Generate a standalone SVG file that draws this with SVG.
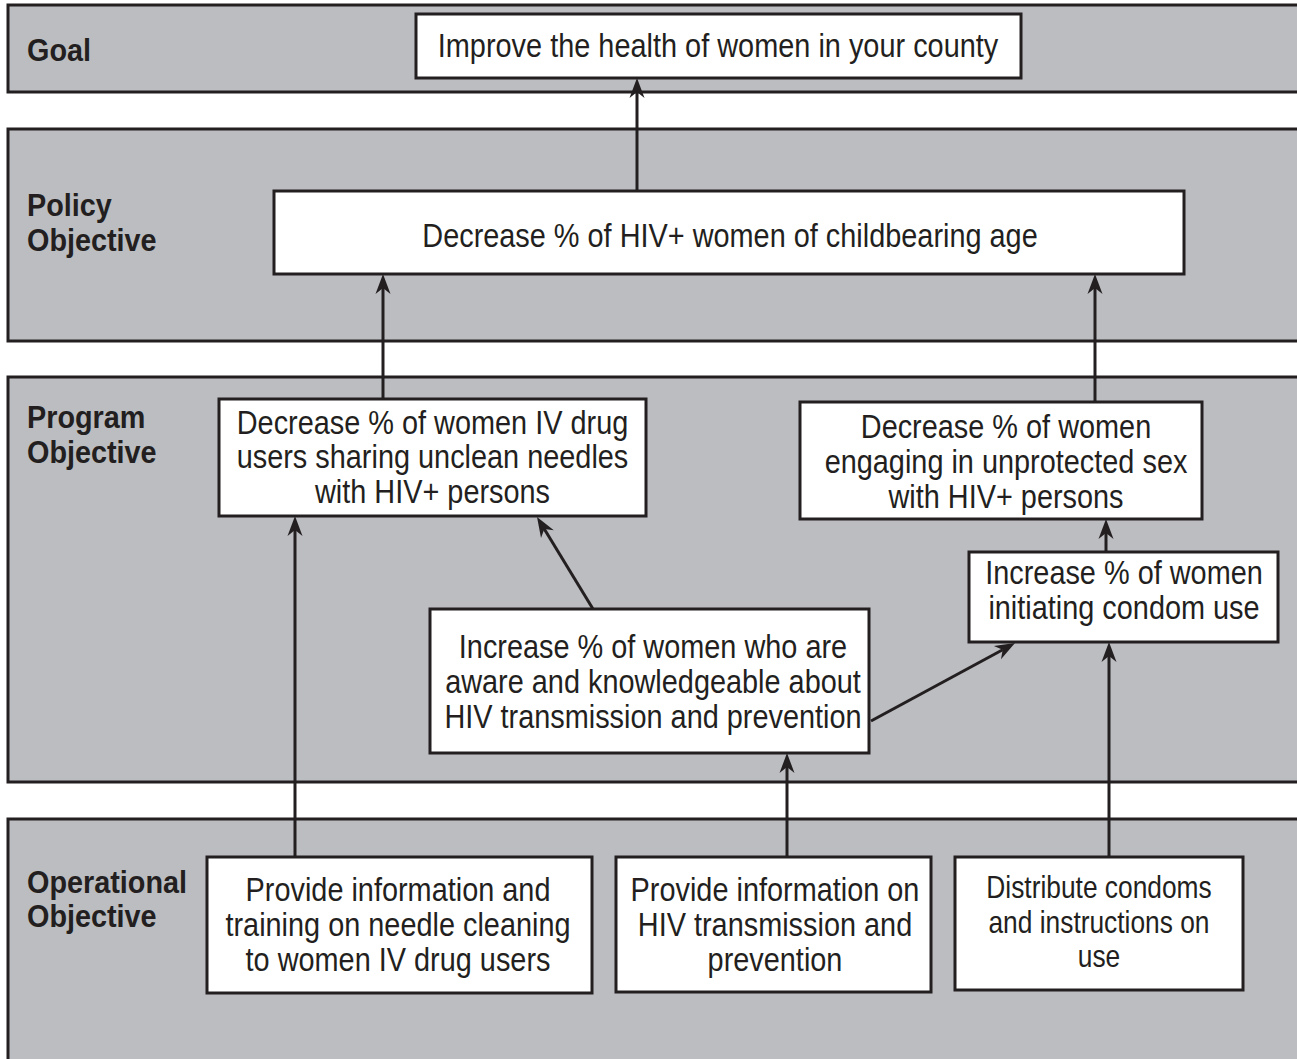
<svg xmlns="http://www.w3.org/2000/svg" width="1297" height="1059" viewBox="0 0 1297 1059">
  <style>
    .band { fill: #bcbdc1; stroke: #231f20; stroke-width: 3; }
    .box { fill: #ffffff; stroke: #231f20; stroke-width: 3; }
    .lbl { font-family: "Liberation Sans", Arial, sans-serif; font-weight: bold; font-size: 32px; fill: #231f20; }
    .txt { font-family: "Liberation Sans", Arial, sans-serif; font-size: 33px; fill: #231f20; text-anchor: middle; }
    .big { font-size: 34px; }
    .sm { font-size: 31px; }
    .conn { stroke: #231f20; stroke-width: 3; fill: none; marker-end: url(#ah); }
  </style>
  <defs>
    <marker id="ah" viewBox="-22 -9 24 18" refX="-14" refY="0" markerWidth="24" markerHeight="18" markerUnits="userSpaceOnUse" orient="auto">
      <path d="M0,0 L-20,-7.5 L-14,0 L-20,7.5 Z" fill="#231f20"/>
    </marker>
  </defs>

  <rect width="1297" height="1059" fill="#ffffff"/>

  <!-- Level bands -->
  <g id="bands">
    <g id="band-goal">
      <rect class="band" x="8" y="5" width="1300" height="87"/>
      <text class="lbl" transform="translate(27 0) scale(0.9 1)" x="0" y="61">Goal</text>
    </g>
    <g id="band-policy">
      <rect class="band" x="8" y="129" width="1300" height="212"/>
      <text class="lbl" transform="translate(27 0) scale(0.9 1)"><tspan x="0" y="216">Policy</tspan><tspan x="0" y="251">Objective</tspan></text>
    </g>
    <g id="band-program">
      <rect class="band" x="8" y="377" width="1300" height="405"/>
      <text class="lbl" transform="translate(27 0) scale(0.9 1)"><tspan x="0" y="428">Program</tspan><tspan x="0" y="463">Objective</tspan></text>
    </g>
    <g id="band-operational">
      <rect class="band" x="8" y="819" width="1300" height="260"/>
      <text class="lbl" transform="translate(27 0) scale(0.9 1)"><tspan x="0" y="893">Operational</tspan><tspan x="0" y="927">Objective</tspan></text>
    </g>
  </g>

  <!-- Objective boxes -->
  <g id="goal-health">
    <rect class="box" x="416" y="14" width="605" height="64"/>
    <text class="txt big" transform="translate(718 0) scale(0.85 1)" x="0" y="57">Improve the health of women in your county</text>
  </g>
  <g id="policy-hiv">
    <rect class="box" x="274" y="191" width="910" height="83"/>
    <text class="txt" transform="translate(730 0) scale(0.875 1)" x="0" y="247">Decrease % of HIV+ women of childbearing age</text>
  </g>
  <g id="program-needles">
    <rect class="box" x="219" y="399" width="427" height="117"/>
    <text class="txt" transform="translate(432.5 0) scale(0.875 1)"><tspan x="0" y="434">Decrease % of women IV drug</tspan><tspan x="0" y="468.5">users sharing unclean needles</tspan><tspan x="0" y="503">with HIV+ persons</tspan></text>
  </g>
  <g id="program-unprotected">
    <rect class="box" x="800" y="402" width="402" height="117"/>
    <text class="txt" transform="translate(1006 0) scale(0.875 1)"><tspan x="0" y="438">Decrease % of women</tspan><tspan x="0" y="473">engaging in unprotected sex</tspan><tspan x="0" y="508">with HIV+ persons</tspan></text>
  </g>
  <g id="program-condom">
    <rect class="box" x="969" y="552" width="309" height="90"/>
    <text class="txt" transform="translate(1124 0) scale(0.875 1)"><tspan x="0" y="584">Increase % of women</tspan><tspan x="0" y="619">initiating condom use</tspan></text>
  </g>
  <g id="program-awareness">
    <rect class="box" x="430" y="609" width="439" height="144"/>
    <text class="txt" transform="translate(653 0) scale(0.875 1)"><tspan x="0" y="658">Increase % of women who are</tspan><tspan x="0" y="693">aware and knowledgeable about</tspan><tspan x="0" y="728">HIV transmission and prevention</tspan></text>
  </g>
  <g id="op-needle-training">
    <rect class="box" x="207" y="857" width="385" height="136"/>
    <text class="txt" transform="translate(398 0) scale(0.875 1)"><tspan x="0" y="901">Provide information and</tspan><tspan x="0" y="936">training on needle cleaning</tspan><tspan x="0" y="971">to women IV drug users</tspan></text>
  </g>
  <g id="op-hiv-info">
    <rect class="box" x="616" y="857" width="315" height="135"/>
    <text class="txt" transform="translate(775 0) scale(0.875 1)"><tspan x="0" y="901">Provide information on</tspan><tspan x="0" y="936">HIV transmission and</tspan><tspan x="0" y="971">prevention</tspan></text>
  </g>
  <g id="op-condoms">
    <rect class="box" x="955" y="857" width="288" height="133"/>
    <text class="txt sm" transform="translate(1099 0) scale(0.85 1)"><tspan x="0" y="898">Distribute condoms</tspan><tspan x="0" y="933">and instructions on</tspan><tspan x="0" y="967">use</tspan></text>
  </g>

  <!-- Connectors (line ends sit at the arrowhead notch, 14px short of the tip) -->
  <g id="connectors">
    <line class="conn" x1="637" y1="191" x2="637" y2="92"/>
    <line class="conn" x1="383" y1="399" x2="383" y2="288"/>
    <line class="conn" x1="1095" y1="402" x2="1095" y2="288"/>
    <line class="conn" x1="1106" y1="552" x2="1106" y2="533"/>
    <line class="conn" x1="593" y1="609" x2="544.3" y2="529"/>
    <line class="conn" x1="871" y1="721" x2="1002.7" y2="649.7"/>
    <line class="conn" x1="295" y1="857" x2="295" y2="530"/>
    <line class="conn" x1="787" y1="857" x2="787" y2="767"/>
    <line class="conn" x1="1109" y1="857" x2="1109" y2="656"/>
  </g>
</svg>
